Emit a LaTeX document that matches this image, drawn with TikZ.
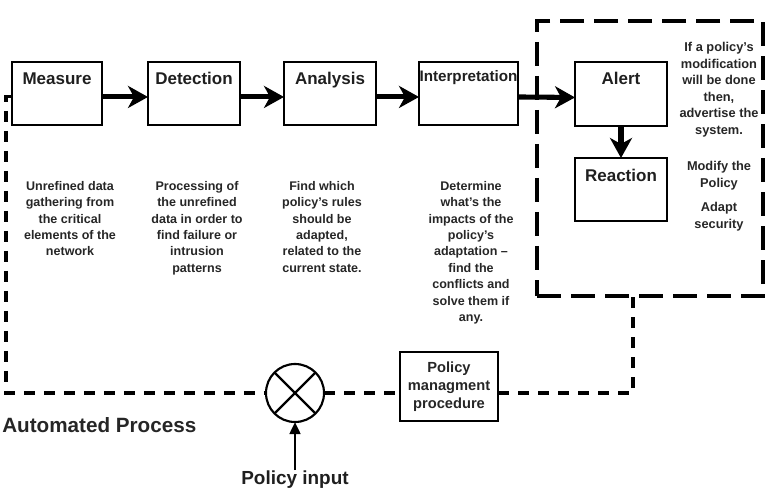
\documentclass[tikz,border=0pt]{standalone}
\usepackage{fontspec}
\setmainfont{Liberation Sans}
\usetikzlibrary{arrows.meta,calc}
\begin{document}
\begin{tikzpicture}[x=0.75pt,y=-0.75pt,
  box/.style={draw,line width=2.2pt,rectangle,outer sep=0pt,inner sep=0pt,
    minimum height=47.25pt,anchor=north west},
  blabel/.style={font=\fontsize{12.75}{15}\selectfont\bfseries,anchor=base,inner sep=0pt,text=black!88},
  desc/.style={font=\fontsize{9.4}{12.3}\selectfont\bfseries,align=center,anchor=north,inner sep=0pt,text=black!85},
  rdesc/.style={font=\fontsize{9.6}{12.4}\selectfont\bfseries,align=center,anchor=north,inner sep=0pt,text=black!85},
  bigarrow/.style={line width=3.8pt,-{Stealth[length=15pt,width=16.5pt,inset=4.5pt]}},
  loopline/.style={line width=2.3pt,dash pattern=on 8.25pt off 6.75pt},
  boxline/.style={line width=2.6pt,dash pattern=on 18pt off 7.5pt},
]
\useasboundingbox (0,0) rectangle (774,488);

% dashed enclosure
\node[draw,boxline,rectangle,inner sep=0pt,outer sep=0pt,anchor=north west,
  minimum width=169.5pt,minimum height=206.25pt] (db) at (537,21) {};

% process boxes
\node[box,minimum width=67.5pt] (m) at (12,62) {};
\node[box,minimum width=69pt] (d) at (148,62) {};
\node[box,minimum width=69pt] (a) at (284,62) {};
\node[box,minimum width=74.25pt] (i) at (419,62) {};
\node[box,minimum width=69pt,minimum height=48pt] (al) at (575,62) {};
\node[box,minimum width=69pt] (re) at (575,158) {};

\node[blabel] (ml) at ($(m.north)+(0,23)$) {Measure};
\node[blabel] (dl) at ($(d.north)+(0,23)$) {Detection};
\node[blabel] (alab) at ($(a.north)+(0,23)$) {Analysis};
\node[blabel,font=\fontsize{11.4}{14}\selectfont\bfseries] (il) at ($(i.north)+(0,20)$) {Interpretation};
\node[blabel] (all) at ($(al.north)+(0,23)$) {Alert};
\node[blabel] (rel) at ($(re.north)+(0,24)$) {Reaction};

% arrows
\draw[bigarrow] ([yshift=-2.6pt]m.east) -- ([yshift=-2.6pt]d.west);
\draw[bigarrow] ([yshift=-2.6pt]d.east) -- ([yshift=-2.6pt]a.west);
\draw[bigarrow] ([yshift=-2.6pt]a.east) -- ([yshift=-2.6pt]i.west);
\draw[bigarrow] ([yshift=-2.6pt]i.east) -- ([yshift=-2.6pt]al.west);
\draw[bigarrow] (al.south) -- (re.north);

% descriptions
\node[desc] (t1) at (70,181) {Unrefined data\\gathering from\\the critical\\elements of the\\network};
\node[desc] (t2) at (197,181) {Processing of\\the unrefined\\data in order to\\find failure or\\intrusion\\patterns};
\node[desc] (t3) at (322,181) {Find which\\policy's rules\\should be\\adapted,\\related to the\\current state.};
\node[desc] (t4) at (471,181) {Determine\\what's the\\impacts of the\\policy's\\adaptation --\\find the\\conflicts and\\solve them if\\any.};
\node[rdesc] (r1) at (719,42) {If a policy's\\modification\\will be done\\then,\\advertise the\\system.};
\node[rdesc] (r2) at (719,161) {Modify the\\Policy};
\node[rdesc] (r3) at (719,202) {Adapt\\security};

% bottom loop
\node[circle,draw,line width=1.6pt,minimum size=43.5pt,inner sep=0pt,outer sep=0pt] (c) at (295,393) {};
\draw[line width=1.6pt] (c.north east) -- (c.south west) (c.north west) -- (c.south east);
\node[box,minimum width=73.5pt,minimum height=51.75pt,align=center,
  font=\fontsize{11}{13.5}\selectfont\bfseries,text=black!85] (p) at (400,352) {Policy\\managment\\procedure};
\coordinate (tap) at (633,296);

\draw[loopline] ([yshift=-2.6pt]m.west) -- ++(-6,0) |- (c.west);
\draw[loopline] (c.east) -- (c.east -| p.west);
\draw[loopline] (c.east -| p.east) -| (tap);

\node[font=\fontsize{15.5}{18}\selectfont\bfseries,anchor=base west,inner sep=0pt,text=black!85] (ap) at (2,432) {Automated Process};
\node[font=\fontsize{14.2}{17}\selectfont\bfseries,anchor=base,inner sep=0pt,text=black!88] (pin) at (295,484) {Policy input};
\draw[line width=1.9pt,-{Triangle[length=9pt,width=8pt]}] (pin.north) -- (c.south);
\end{tikzpicture}
\end{document}
